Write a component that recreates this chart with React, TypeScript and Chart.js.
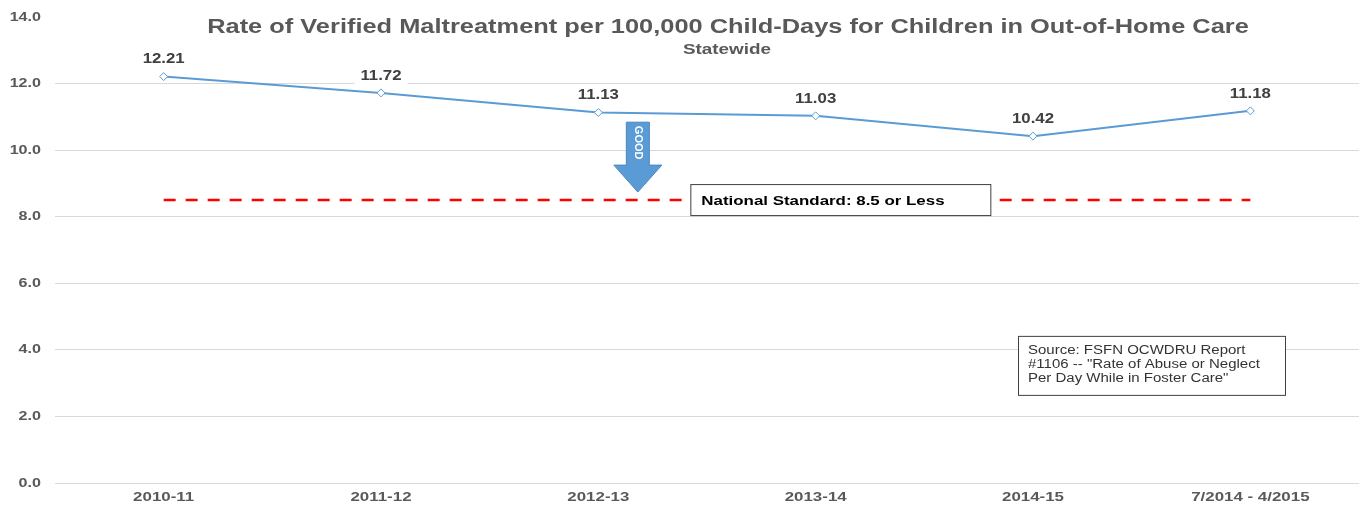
import React, { useEffect, useRef } from "react";
import { Chart, registerables } from "chart.js";

Chart.register(...registerables);

const categories = ["2010-11", "2011-12", "2012-13", "2013-14", "2014-15", "7/2014 - 4/2015"];
const rates = [12.21, 11.72, 11.13, 11.03, 10.42, 11.18];
const nationalStandard = [8.5, 8.5, 8.5, 8.5, 8.5, 8.5];
const yTicks = [0, 2, 4, 6, 8, 10, 12, 14];
const titleText = "Rate of Verified Maltreatment per 100,000 Child-Days for Children in Out-of-Home Care";
const subtitleText = "Statewide";
const standardLabel = "National Standard: 8.5 or Less";
const sourceLines = ["Source: FSFN OCWDRU Report", "#1106 -- \"Rate of Abuse or Neglect", "Per Day While in Foster Care\""];

const FONT = "'Liberation Sans', Arial, sans-serif";
const BLUE = "#5b9bd5";
const SX = 1.26;

function drawText(ctx: any, text: string, x: number, y: number, align: string, sx: number) {
  ctx.save();
  ctx.translate(x, y);
  ctx.scale(sx, 1);
  ctx.textAlign = align;
  ctx.textBaseline = "middle";
  ctx.fillText(text, 0, 0);
  ctx.restore();
}

const overlayPlugin = {
  id: "overlay",
  beforeDatasetsDraw(chart: any) {
    const ctx = chart.ctx;
    const xs = chart.scales.x;
    const ys = chart.scales.y;
    ctx.save();
    ctx.fillStyle = "#595959";
    ctx.font = `bold 20px ${FONT}`;
    drawText(ctx, titleText, 728, 27, "center", 1.27);
    ctx.font = `bold 15px ${FONT}`;
    drawText(ctx, subtitleText, 727, 50, "center", SX);
    // axis tick labels
    ctx.font = `bold 13px ${FONT}`;
    yTicks.forEach((v) => drawText(ctx, v.toFixed(1), 41, ys.getPixelForValue(v), "right", 1.24));
    categories.forEach((c, i) => drawText(ctx, c, xs.getPixelForValue(i), 497, "center", 1.3));
    ctx.restore();
  },
  afterDatasetsDraw(chart: any) {
    const ctx = chart.ctx;
    const xs = chart.scales.x;
    const ys = chart.scales.y;
    ctx.save();
    // data labels
    const meta = chart.getDatasetMeta(0);
    ctx.font = `bold 14px ${FONT}`;
    meta.data.forEach((pt: any, i: number) => {
      const txt = rates[i].toFixed(2);
      const w = ctx.measureText(txt).width * 1.2 + 12;
      const y = pt.y - 17;
      ctx.fillStyle = "#ffffff";
      ctx.fillRect(pt.x - w / 2, y - 9, w, 18);
      ctx.fillStyle = "#404040";
      drawText(ctx, txt, pt.x, y, "center", 1.2);
    });

    // GOOD arrow
    const ax = xs.getPixelForValue(2) + 39.5;
    const top = ys.getPixelForValue(10.84);
    const neck = ys.getPixelForValue(9.55);
    const tip = ys.getPixelForValue(8.74);
    ctx.fillStyle = BLUE;
    ctx.strokeStyle = "#4a86c0";
    ctx.lineWidth = 1;
    ctx.beginPath();
    ctx.moveTo(ax - 11.5, top);
    ctx.lineTo(ax + 11.5, top);
    ctx.lineTo(ax + 11.5, neck);
    ctx.lineTo(ax + 24, neck);
    ctx.lineTo(ax, tip);
    ctx.lineTo(ax - 24, neck);
    ctx.lineTo(ax - 11.5, neck);
    ctx.closePath();
    ctx.fill();
    ctx.stroke();
    ctx.save();
    ctx.translate(ax, (top + neck) / 2 - 1);
    ctx.rotate(Math.PI / 2);
    ctx.fillStyle = "#ffffff";
    ctx.font = `bold 11px ${FONT}`;
    ctx.textAlign = "center";
    ctx.textBaseline = "middle";
    ctx.fillText("GOOD", 0, 0);
    ctx.restore();

    // National standard box
    const by = ys.getPixelForValue(8.5);
    const bx = xs.getPixelForValue(2) + 92;
    ctx.fillStyle = "#ffffff";
    ctx.fillRect(bx, by - 15.5, 300, 31);
    ctx.strokeStyle = "#404040";
    ctx.lineWidth = 1;
    ctx.strokeRect(bx + 0.5, by - 15.5, 300, 31);
    ctx.fillStyle = "#000000";
    ctx.font = `bold 13px ${FONT}`;
    drawText(ctx, standardLabel, bx + 11, by + 1, "left", 1.3);

    // Source box
    const sx = xs.getPixelForValue(4) - 15;
    const sy = ys.getPixelForValue(4.42);
    ctx.fillStyle = "#ffffff";
    ctx.fillRect(sx, sy, 267, 59);
    ctx.strokeStyle = "#404040";
    ctx.strokeRect(sx + 0.5, sy + 0.5, 267, 59);
    ctx.fillStyle = "#333333";
    ctx.font = `12px ${FONT}`;
    sourceLines.forEach((l, i) => drawText(ctx, l, sx + 10, sy + 15 + i * 14, "left", 1.25));
    ctx.restore();
  },
};

export default function App() {
  const ref = useRef<HTMLCanvasElement>(null);
  useEffect(() => {
    if (!ref.current) return;
    const chart = new Chart(ref.current, {
      type: "line",
      data: {
        labels: categories,
        datasets: [
          {
            label: "Rate",
            data: rates,
            borderColor: BLUE,
            borderWidth: 2,
            pointStyle: "rectRot",
            pointRadius: 4,
            pointBackgroundColor: "#ffffff",
            pointBorderColor: BLUE,
            pointBorderWidth: 1,
            tension: 0,
          },
          {
            label: "National Standard",
            data: nationalStandard,
            borderColor: "#ff0000",
            borderWidth: 2.5,
            borderDash: [12, 10],
            pointRadius: 0,
            tension: 0,
          },
        ],
      },
      plugins: [overlayPlugin],
      options: {
        responsive: false,
        animation: false,
        layout: { padding: { top: 17, right: 2, left: 0, bottom: 0 } },
        plugins: { legend: { display: false }, tooltip: { enabled: false }, title: { display: false } },
        scales: {
          x: {
            offset: true,
            grid: { display: false, drawTicks: false },
            border: { display: false },
            ticks: { display: false },
            afterFit: (s: any) => { s.height = 25; },
          },
          y: {
            min: 0,
            max: 14,
            afterBuildTicks: (s: any) => { s.ticks = yTicks.map((v) => ({ value: v })); },
            grid: {
              color: (c: any) => (c.tick && c.tick.value === 14 ? "rgba(0,0,0,0)" : "#d9d9d9"),
              drawTicks: false,
              lineWidth: 1,
            },
            border: { display: false },
            ticks: { display: false },
            afterFit: (s: any) => { s.width = 55; },
          },
        },
      },
    });
    return () => chart.destroy();
  }, []);
  return (
    <div style={{ position: "absolute", left: 0, top: 0, width: 1364, height: 508, background: "#fff" }}>
      <canvas ref={ref} width={1364} height={508} style={{ display: "block" }} />
    </div>
  );
}
